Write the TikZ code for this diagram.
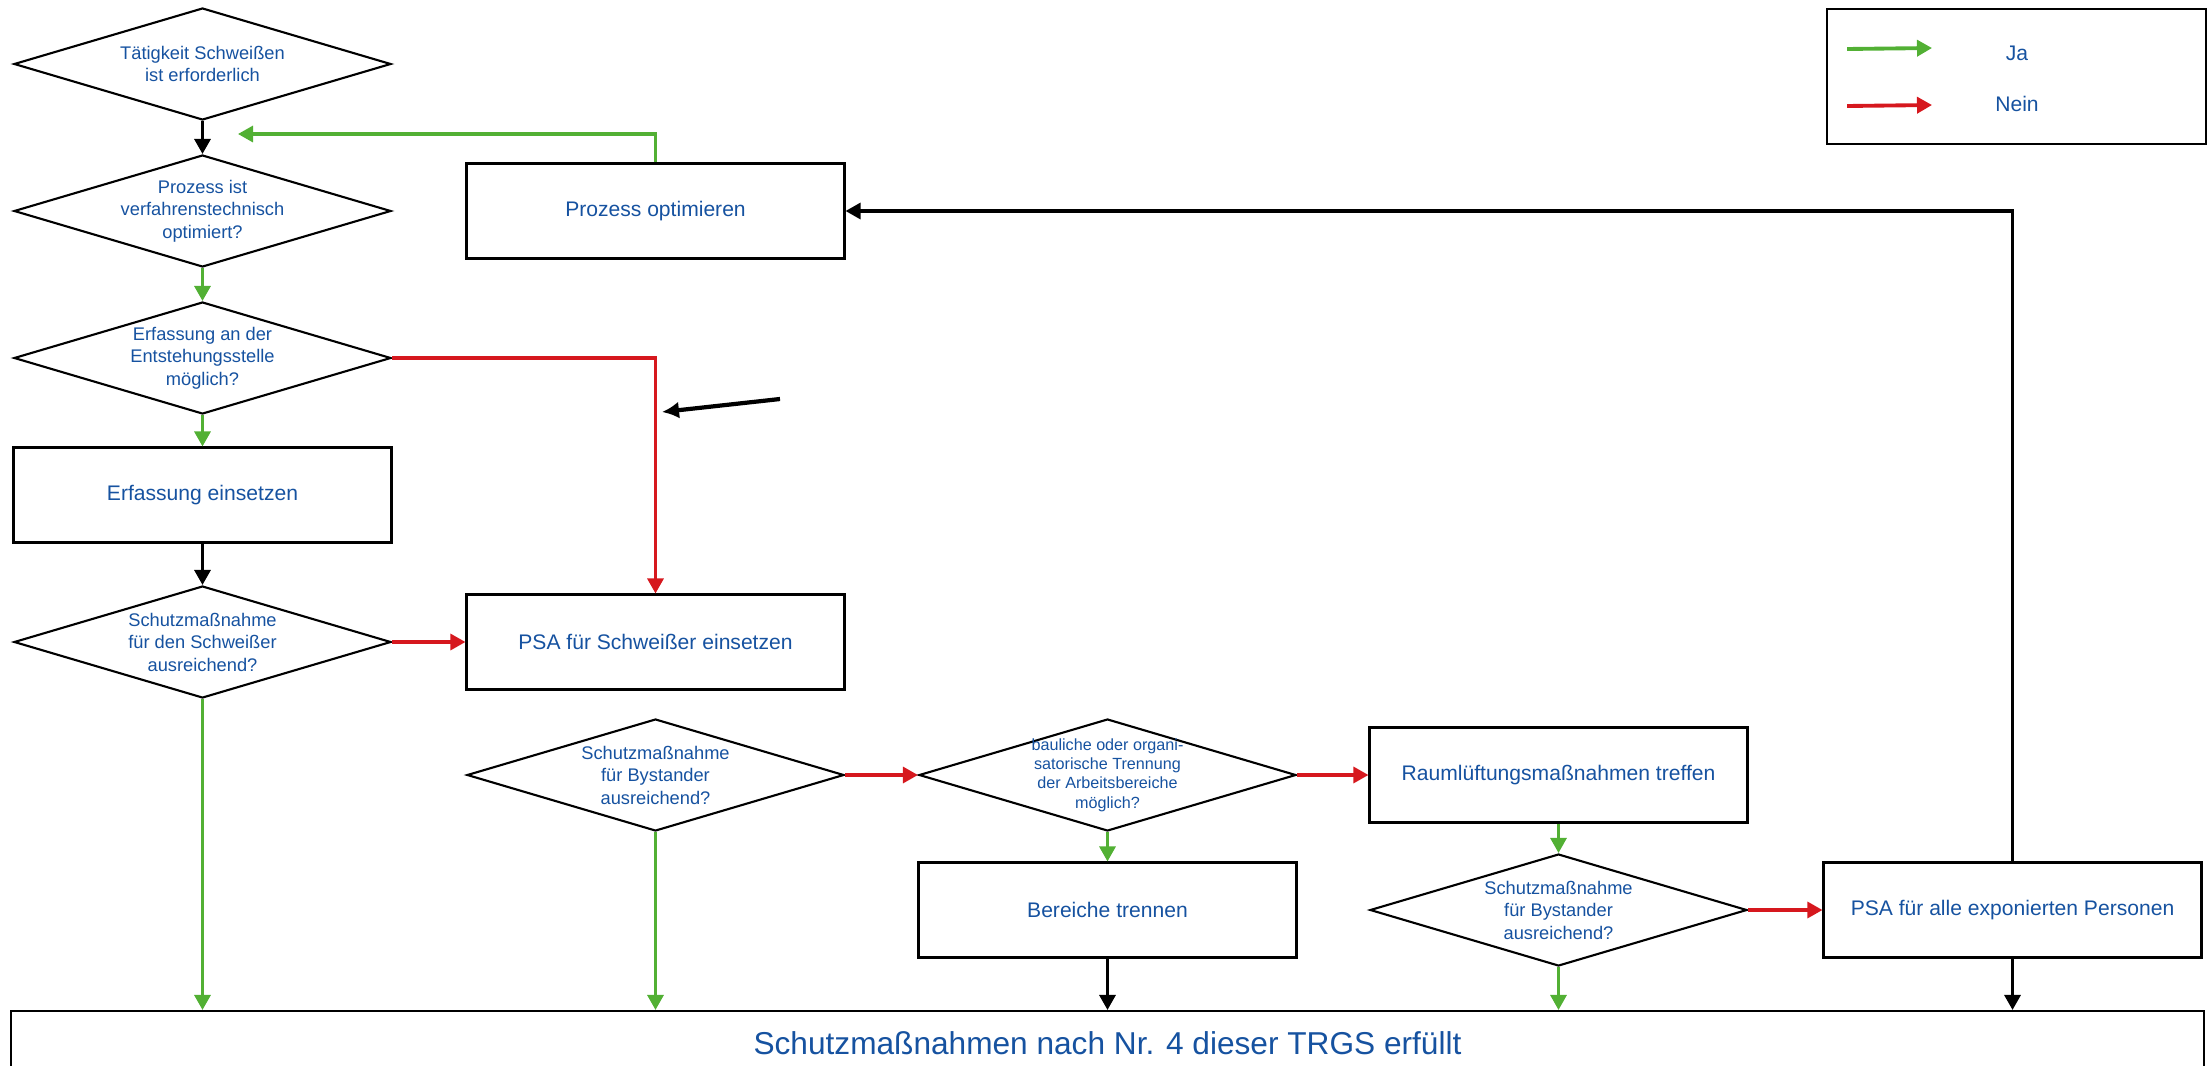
\documentclass[tikz,border=0pt]{standalone}
\usepackage{fontspec}
\setmainfont{Liberation Sans}
\usepackage{tikz}
\usetikzlibrary{shapes.geometric, arrows}
\usetikzlibrary{arrows.meta}
\definecolor{schrift}{RGB}{22,82,160}
\definecolor{jagruen}{RGB}{82,176,52}
\definecolor{neinrot}{RGB}{214,24,30}
\tikzstyle{frage} = [diamond, draw=black, line width=0.6pt, minimum width=3.77cm, minimum height=1.12cm, inner xsep=-3cm, inner ysep=-1cm, align=center, text=schrift, font=\fontsize{5.2}{6.4}\selectfont]
\tikzstyle{process} = [rectangle, minimum width=3.78cm, minimum height=0.95cm, inner sep=0pt, text centered, draw=black, line width=0.6pt, text=schrift, font=\fontsize{6}{7.2}\selectfont]
\tikzstyle{legendtext} = [text=schrift, font=\fontsize{6}{7.2}\selectfont]
\tikzstyle{arrow} = [line width=0.9pt,->,>={Triangle[length=1.5mm,width=1.6mm]}]
\tikzstyle{ja} = [arrow, jagruen]
\tikzstyle{nein} = [arrow, neinrot]

\begin{document}
\begin{tikzpicture}[node distance=1.47cm]
\useasboundingbox (0,0) rectangle (22.11,-10.65);

\node (t1) [frage] at (2.025,-0.64) {Tätigkeit Schweißen\\ist erforderlich};
\node (t2) [frage, below of=t1] {Prozess ist\\verfahrenstechnisch\\optimiert?};
\node (t3) [frage, below of=t2] {Erfassung an der\\Entstehungsstelle\\möglich?};
\node (erf) [process, below of=t3, yshift=0.1cm] {Erfassung einsetzen};
\node (t4) [frage, below of=erf] {Schutzmaßnahme\\für den Schweißer\\ausreichend?};

\node (opt) [process, right of=t2, xshift=3.06cm] {Prozess optimieren};
\node (psa1) [process, right of=t4, xshift=3.06cm] {PSA für Schweißer einsetzen};

\node (t5) [frage, below of=psa1, yshift=0.14cm] {Schutzmaßnahme\\für Bystander\\ausreichend?};
\node (t6) [frage, right of=t5, xshift=3.05cm, font=\fontsize{4.6}{5.5}\selectfont] {bauliche oder organi-\\satorische Trennung\\der Arbeitsbereiche\\möglich?};
\node (raum) [process, right of=t6, xshift=3.04cm] {Raumlüftungsmaßnahmen treffen};
\node (ber) [process, below of=t6, yshift=0.12cm] {Bereiche trennen};
\node (t7) [frage, below of=raum, yshift=0.12cm] {Schutzmaßnahme\\für Bystander\\ausreichend?};
\node (psa2) [process, right of=t7, xshift=3.07cm] {PSA für alle exponierten Personen};

\node (ziel) [rectangle, draw=black, line width=0.6pt, minimum width=21.93cm, minimum height=0.64cm, below of=ber, yshift=0.14cm, text=schrift, font=\fontsize{9}{10.8}\selectfont] {Schutzmaßnahmen nach Nr. 4 dieser TRGS erfüllt};

% Legende
\node (legende) [rectangle, draw=black, line width=0.8pt, minimum width=3.79cm, minimum height=1.35cm] at (20.165,-0.765) {};
\node (ja) [legendtext] at (20.17,-0.53) {Ja};
\node (nein) [legendtext] at (20.17,-1.04) {Nein};
\coordinate (ja0) at (18.47,-0.49);
\coordinate (ja1) at (19.32,-0.48);
\coordinate (nein0) at (18.47,-1.06);
\coordinate (nein1) at (19.32,-1.05);
\draw [ja, line width=1.1pt] (ja0) -- (ja1);
\draw [nein, line width=1.1pt] (nein0) -- (nein1);

\coordinate (zurueck) at (2.38,-1.34);
\coordinate (hinweis0) at (7.80,-3.99);
\coordinate (hinweis1) at (6.62,-4.12);

\draw [arrow] (t1) -- (t2);
\draw [ja] (t2) -- (t3);
\draw [ja] (t3) -- (erf);
\draw [arrow] (erf) -- (t4);
\draw [nein] (t4) -- (psa1);
\draw [nein] (t3.east) -| (psa1.north);
\draw [ja] (opt.north) |- (zurueck);
\draw [ja] (t4.south) -- (t4.south |- ziel.north);

\draw [nein] (t5) -- (t6);
\draw [ja] (t5.south) -- (t5.south |- ziel.north);
\draw [nein] (t6) -- (raum);
\draw [ja] (t6) -- (ber);
\draw [arrow] (ber.south) -- (ber.south |- ziel.north);
\draw [ja] (raum) -- (t7);
\draw [nein] (t7) -- (psa2);
\draw [ja] (t7.south) -- (t7.south |- ziel.north);
\draw [arrow] (psa2.south) -- (psa2.south |- ziel.north);
\draw [arrow] (psa2.north) |- (opt.east);

\draw [line width=1.2pt, -{Latex[length=1.7mm,width=1.7mm]}] (hinweis0) -- (hinweis1);
\end{tikzpicture}
\end{document}
